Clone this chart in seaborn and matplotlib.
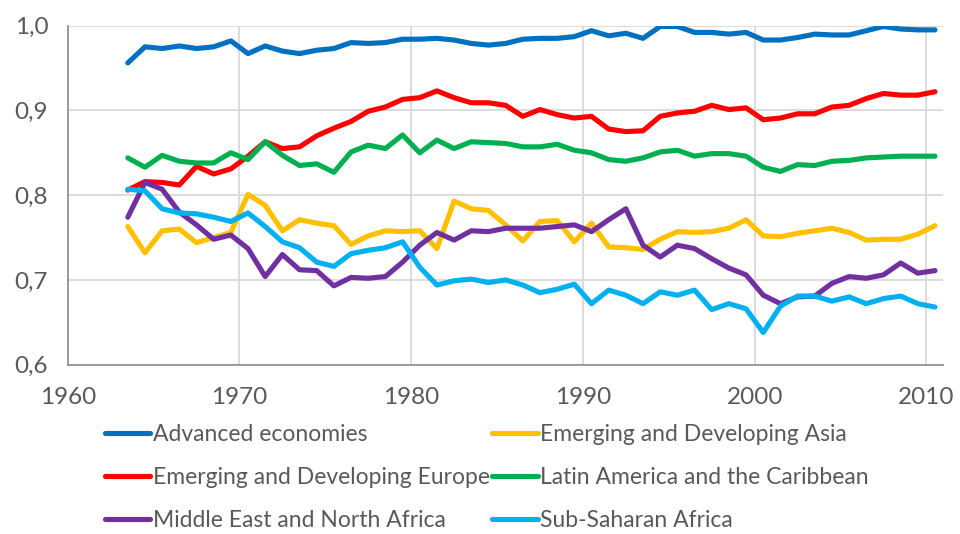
import numpy as np
import pandas as pd
import matplotlib.pyplot as plt
import seaborn as sns

# Data (yearly, 1963-2010)
years = list(range(1963, 2011))

advanced = [0.956, 0.975, 0.973, 0.976, 0.973, 0.975, 0.982, 0.967, 0.976, 0.970,
            0.967, 0.971, 0.973, 0.980, 0.979, 0.980, 0.984, 0.984, 0.985, 0.983,
            0.979, 0.977, 0.979, 0.984, 0.985, 0.985, 0.987, 0.994, 0.988, 0.991,
            0.985, 0.999, 0.999, 0.992, 0.992, 0.990, 0.992, 0.983, 0.983, 0.986,
            0.990, 0.989, 0.989, 0.994, 0.999, 0.996, 0.995, 0.995]
asia = [0.763, 0.732, 0.758, 0.760, 0.744, 0.750, 0.756, 0.801, 0.788, 0.758,
        0.771, 0.767, 0.764, 0.742, 0.752, 0.758, 0.757, 0.758, 0.737, 0.793,
        0.784, 0.782, 0.765, 0.746, 0.769, 0.770, 0.745, 0.767, 0.739, 0.738,
        0.736, 0.748, 0.757, 0.756, 0.757, 0.761, 0.771, 0.752, 0.751, 0.755,
        0.758, 0.761, 0.756, 0.747, 0.748, 0.748, 0.754, 0.764]
europe = [0.806, 0.816, 0.815, 0.812, 0.834, 0.825, 0.831, 0.846, 0.863, 0.855,
          0.857, 0.870, 0.879, 0.887, 0.899, 0.904, 0.913, 0.915, 0.923, 0.915,
          0.909, 0.909, 0.906, 0.893, 0.901, 0.895, 0.891, 0.893, 0.878, 0.875,
          0.876, 0.893, 0.897, 0.899, 0.906, 0.901, 0.903, 0.889, 0.891, 0.896,
          0.896, 0.904, 0.906, 0.914, 0.920, 0.918, 0.918, 0.922]
latam = [0.844, 0.833, 0.847, 0.840, 0.838, 0.838, 0.850, 0.842, 0.863, 0.847,
         0.835, 0.837, 0.827, 0.851, 0.859, 0.855, 0.871, 0.850, 0.865, 0.855,
         0.863, 0.862, 0.861, 0.857, 0.857, 0.860, 0.853, 0.850, 0.842, 0.840,
         0.844, 0.851, 0.853, 0.846, 0.849, 0.849, 0.846, 0.833, 0.828, 0.836,
         0.835, 0.840, 0.841, 0.844, 0.845, 0.846, 0.846, 0.846]
mena = [0.774, 0.815, 0.807, 0.780, 0.765, 0.748, 0.753, 0.737, 0.704, 0.730,
        0.712, 0.711, 0.693, 0.703, 0.702, 0.704, 0.721, 0.741, 0.756, 0.747,
        0.758, 0.757, 0.761, 0.761, 0.761, 0.763, 0.765, 0.757, 0.771, 0.784,
        0.741, 0.727, 0.741, 0.737, 0.725, 0.714, 0.706, 0.682, 0.672, 0.680,
        0.681, 0.696, 0.704, 0.702, 0.706, 0.720, 0.708, 0.711]
ssa = [0.807, 0.805, 0.784, 0.779, 0.778, 0.774, 0.769, 0.779, 0.763, 0.745,
       0.738, 0.721, 0.716, 0.731, 0.735, 0.738, 0.745, 0.715, 0.694, 0.699,
       0.701, 0.697, 0.700, 0.694, 0.685, 0.689, 0.695, 0.672, 0.688, 0.682,
       0.672, 0.686, 0.682, 0.688, 0.665, 0.672, 0.666, 0.638, 0.669, 0.681,
       0.681, 0.675, 0.680, 0.672, 0.678, 0.681, 0.672, 0.668]

regions = ["Advanced economies", "Emerging and Developing Asia",
           "Emerging and Developing Europe", "Latin America and the Caribbean",
           "Middle East and North Africa", "Sub-Saharan Africa"]
series = [advanced, asia, europe, latam, mena, ssa]
colors = ["#0070C0", "#FFC000", "#FF0000", "#00B050", "#7030A0", "#00B0F0"]

x_ticks = [1960, 1970, 1980, 1990, 2000, 2010]
y_ticks = [0.6, 0.7, 0.8, 0.9, 1.0]
y_tick_labels = ["0,6", "0,7", "0,8", "0,9", "1,0"]

# long-form table, points sit mid-year on the date axis
df = pd.concat([
    pd.DataFrame({"year": np.array(years) + 0.5, "value": vals, "region": name})
    for name, vals in zip(regions, series)
])

sns.set_style("white")
plt.rcParams["font.family"] = ["Lato", "DejaVu Sans"]
text_color = "#595959"

fig = plt.figure(figsize=(9.6, 5.34), dpi=100)
ax = fig.add_axes([0.0705, 0.317, 0.9115, 0.635])

sns.lineplot(data=df, x="year", y="value", hue="region", hue_order=regions,
             palette=colors, linewidth=3.7, ax=ax, legend=False)

ax.set_xlim(1960, 2010.95)
ax.set_ylim(0.6, 1.0)
ax.set_xticks(x_ticks)
ax.set_yticks(y_ticks)
ax.set_yticklabels(y_tick_labels)
ax.set_xlabel("")
ax.set_ylabel("")
ax.tick_params(axis="both", colors="#7f7f7f", labelcolor=text_color,
               labelsize=17.5, length=6, width=1, direction="out", pad=10)
ax.tick_params(axis="y", length=5, pad=9)

ax.grid(True, color="#d9d9d9", linewidth=1.3)
ax.set_axisbelow(True)
for side in ["top", "right"]:
    ax.spines[side].set_visible(False)
for side in ["left", "bottom"]:
    ax.spines[side].set_color("#8c8c8c")
    ax.spines[side].set_linewidth(1.2)

# legend in row order: two columns, three rows
handles = [plt.Line2D([], [], color=c, linewidth=3.7, solid_capstyle="round")
           for c in colors]
order = [0, 2, 4, 1, 3, 5]
leg = fig.legend([handles[i] for i in order], [regions[i] for i in order],
                 ncol=2, loc="upper left", bbox_to_anchor=(0.109, 0.206),
                 frameon=False, fontsize=16.5, handlelength=2.0,
                 handletextpad=0.1, columnspacing=0.1, labelspacing=0.95,
                 borderaxespad=0, borderpad=0)
for t in leg.get_texts():
    t.set_color(text_color)

fig.savefig("out.png", dpi=100)
